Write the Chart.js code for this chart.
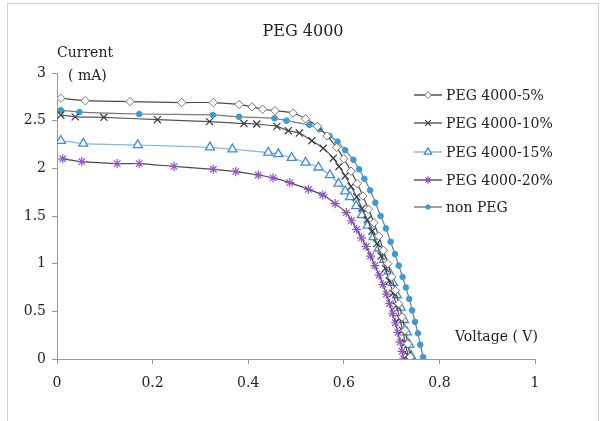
<!DOCTYPE html>
<html>
<head>
<meta charset="utf-8">
<script src="https://cdn.jsdelivr.net/npm/chart.js@4/dist/chart.umd.min.js"></script>
<style>
html,body{margin:0;padding:0;background:#fff;}
#wrap{position:relative;width:608px;height:421px;}
canvas{display:block;}
</style>
</head>
<body>
<div id="wrap"><canvas id="c" width="608" height="421"></canvas></div>
<script>
// ---- data ----
const seriesNames = ["PEG 4000-5%", "PEG 4000-10%", "PEG 4000-15%", "PEG 4000-20%", "non PEG"];
const xTicks = [0, 0.2, 0.4, 0.6, 0.8, 1];
const yTicks = [0, 0.5, 1, 1.5, 2, 2.5, 3];

const v5 = [0.008,0.059,0.153,0.261,0.327,0.381,0.408,0.430,0.456,0.494,0.520,0.545,0.565,0.585,0.600,0.615,0.628,0.640,0.652,0.663,0.673,0.683,0.692,0.700,0.708,0.715,0.722,0.728,0.734,0.739];
const i5 = [2.735,2.71,2.70,2.69,2.69,2.67,2.645,2.62,2.605,2.58,2.52,2.44,2.34,2.22,2.10,1.97,1.84,1.71,1.57,1.43,1.29,1.14,1.00,0.86,0.72,0.58,0.44,0.30,0.16,0.02];

const v10 = [0.008,0.038,0.098,0.210,0.319,0.391,0.418,0.460,0.484,0.507,0.533,0.557,0.578,0.590,0.603,0.615,0.627,0.638,0.649,0.659,0.669,0.678,0.687,0.695,0.703,0.710,0.717,0.723,0.729,0.734];
const i10 = [2.56,2.54,2.535,2.51,2.49,2.47,2.465,2.44,2.395,2.37,2.29,2.21,2.106,2.02,1.92,1.81,1.70,1.58,1.46,1.34,1.21,1.08,0.95,0.82,0.69,0.56,0.43,0.30,0.17,0.04];

const v15 = [0.008,0.055,0.169,0.320,0.367,0.442,0.463,0.491,0.520,0.547,0.571,0.589,0.603,0.613,0.626,0.638,0.650,0.662,0.673,0.684,0.694,0.703,0.711,0.719,0.726,0.732,0.737,0.741];
const i15 = [2.29,2.26,2.245,2.22,2.20,2.165,2.15,2.11,2.06,2.01,1.93,1.84,1.76,1.70,1.605,1.51,1.40,1.28,1.16,1.04,0.92,0.80,0.67,0.54,0.41,0.28,0.15,0.03];

const v20 = [0.012,0.052,0.126,0.172,0.245,0.327,0.374,0.421,0.452,0.487,0.526,0.556,0.582,0.605,0.616,0.627,0.637,0.647,0.656,0.665,0.674,0.682,0.689,0.696,0.702,0.708,0.713,0.718,0.722,0.725];
const i20 = [2.10,2.07,2.05,2.05,2.02,1.99,1.965,1.93,1.90,1.85,1.78,1.72,1.63,1.535,1.45,1.36,1.27,1.18,1.08,0.98,0.88,0.78,0.68,0.58,0.48,0.38,0.28,0.18,0.08,0.0];

const v0 = [0.008,0.047,0.172,0.326,0.381,0.455,0.480,0.528,0.549,0.570,0.587,0.603,0.620,0.632,0.643,0.655,0.666,0.677,0.688,0.698,0.707,0.715,0.723,0.730,0.737,0.743,0.749,0.755,0.760,0.766];
const i0 = [2.61,2.59,2.57,2.56,2.54,2.525,2.50,2.455,2.41,2.34,2.28,2.19,2.09,1.99,1.89,1.77,1.64,1.50,1.37,1.23,1.10,0.98,0.86,0.75,0.63,0.51,0.39,0.27,0.15,0.02];

function pts(xs, ys){ return xs.map((x,k)=>({x:x, y:ys[k]})); }

const FONT = "'DejaVu Serif', serif";
const TXT = '#222';

const styles = [
  {line:'#4a4a4a', pt:'#777', fill:'#fff', style:'rectRot', r:4.2, bw:1},
  {line:'#555', pt:'#3a3a3a', fill:'#3a3a3a', style:'crossRot', r:5, bw:1.2},
  {line:'#86b6e2', pt:'#3f8cd6', fill:'#fff', style:'triangle', r:5.2, bw:1.3},
  {line:'#4a4a4a', pt:'#9055c8', fill:'#9055c8', style:'star', r:4.6, bw:1.2},
  {line:'#7a7a7a', pt:'#3a9bd5', fill:'#3a9bd5', style:'circle', r:2.8, bw:1}
];
const dataSets = [pts(v5,i5), pts(v10,i10), pts(v15,i15), pts(v20,i20), pts(v0,i0)];

const datasets = dataSets.map((d,k)=>({
  label: seriesNames[k],
  data: d,
  borderColor: styles[k].line,
  borderWidth: 1.2,
  pointStyle: styles[k].style,
  pointRadius: styles[k].r,
  pointBorderColor: styles[k].pt,
  pointBackgroundColor: styles[k].fill,
  pointBorderWidth: styles[k].bw,
  tension: 0.2,
  fill: false
}));

const decor = {
  id: 'decor',
  afterDraw(chart){
    const ctx = chart.ctx;
    ctx.save();
    // outer border
    ctx.strokeStyle = '#d0d0d0';
    ctx.lineWidth = 1;
    ctx.strokeRect(7.5, 3.5, 591, 430);
    ctx.fillStyle = TXT;
    ctx.textBaseline = 'middle';
    // title
    ctx.font = "16px " + FONT;
    ctx.textAlign = 'center';
    ctx.fillText('PEG 4000', 303, 32);
    // axis titles
    ctx.font = "14px " + FONT;
    ctx.textAlign = 'left';
    ctx.fillText('Current', 57, 53);
    ctx.fillText('( mA)', 68, 76);
    ctx.fillText('Voltage ( V)', 455, 337);
    // legend
    ctx.font = "14px " + FONT;
    const ys = [95, 123, 152, 180, 207];
    for (let k=0;k<5;k++){
      const y = ys[k];
      ctx.strokeStyle = styles[k].line;
      ctx.lineWidth = 1.4;
      ctx.beginPath(); ctx.moveTo(414, y); ctx.lineTo(442, y); ctx.stroke();
      ctx.strokeStyle = styles[k].pt;
      ctx.fillStyle = styles[k].fill;
      ctx.lineWidth = styles[k].bw;
      Chart.helpers.drawPoint(ctx, {pointStyle: styles[k].style, radius: styles[k].r*0.8, rotation: 0, borderWidth: styles[k].bw}, 428, y);
      ctx.fillStyle = TXT;
      ctx.textAlign = 'left';
      ctx.fillText(seriesNames[k], 446, y+1);
    }
    ctx.restore();
  }
};

new Chart(document.getElementById('c'), {
  type: 'line',
  data: { datasets },
  options: {
    responsive: false,
    animation: false,
    devicePixelRatio: 1,
    layout: { padding: { left: 0, right: 73, top: 73, bottom: 0 } },
    plugins: { legend: { display: false }, title: { display: false }, tooltip: { enabled: false } },
    scales: {
      x: {
        type: 'linear', min: 0, max: 1,
        afterBuildTicks(axis){ axis.ticks = xTicks.map(v=>({value:v})); },
        afterFit(axis){ axis.height = 62; },
        ticks: { color: TXT, font: { family: FONT, size: 14 }, padding: 11, maxRotation: 0,
                 callback: v => String(v) },
        grid: { drawOnChartArea: false, drawTicks: true, tickLength: 5, color: '#999' },
        border: { display: true, color: '#999', width: 1 }
      },
      y: {
        type: 'linear', min: 0, max: 3,
        afterBuildTicks(axis){ axis.ticks = yTicks.map(v=>({value:v})); },
        afterFit(axis){ axis.width = 57; },
        ticks: { color: TXT, font: { family: FONT, size: 14 }, padding: 6,
                 callback: v => String(v) },
        grid: { drawOnChartArea: false, drawTicks: true, tickLength: 5, color: '#999' },
        border: { display: true, color: '#999', width: 1 }
      }
    }
  },
  plugins: [decor]
});
</script>
</body>
</html>
